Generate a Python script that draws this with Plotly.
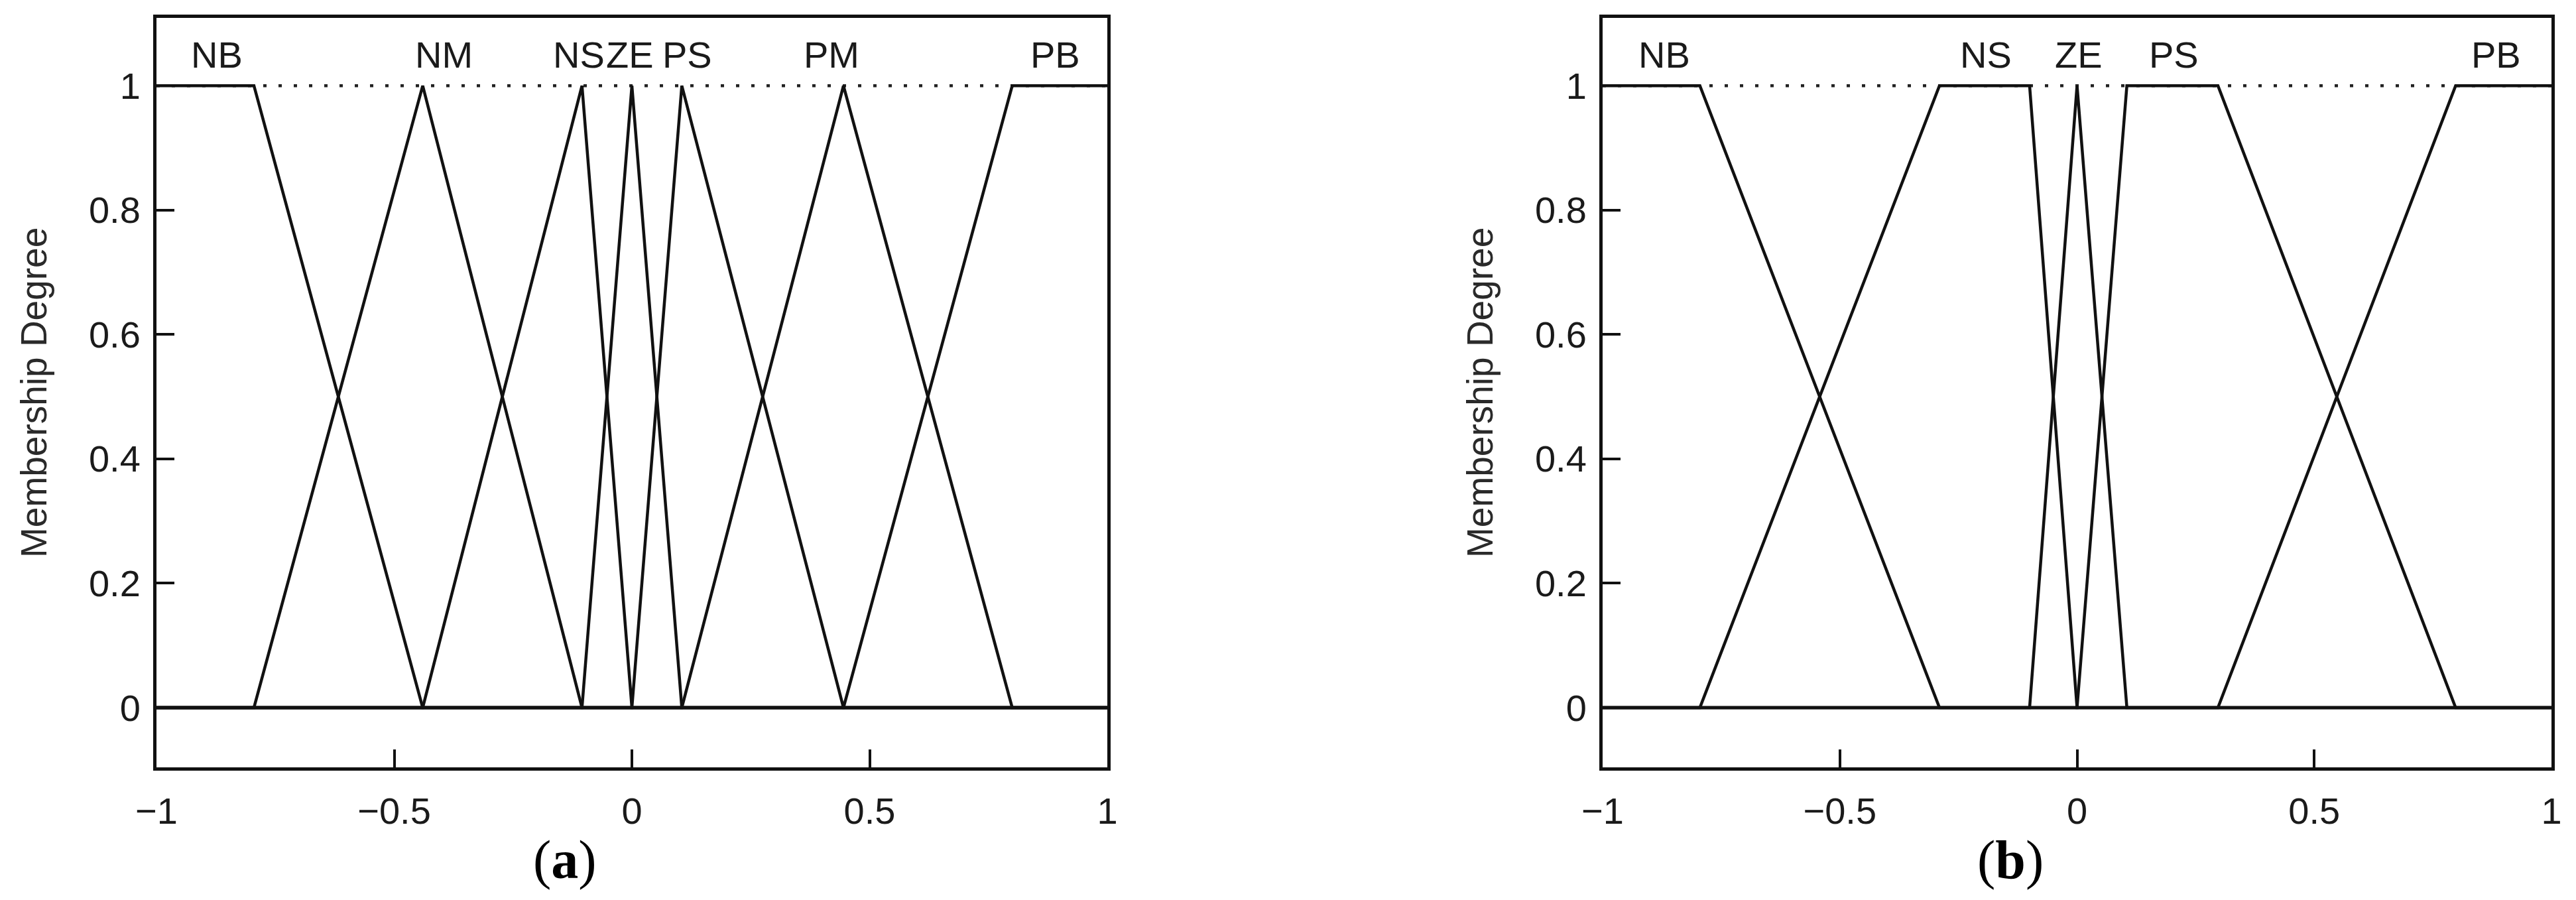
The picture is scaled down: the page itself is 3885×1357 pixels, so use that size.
import plotly.graph_objects as go

# ---------------- data ----------------
# panel (a): membership functions (breakpoints; 3 = triangle, 4 = trapezoid)
A_NAMES = ["NB", "NM", "NS", "ZE", "PS", "PM", "PB"]
A_NB = [-1.0, -1.0, -0.795, -0.44]
A_NM = [-0.795, -0.44, -0.105]
A_NS = [-0.44, -0.105, 0.0]
A_ZE = [-0.105, 0.0, 0.105]
A_PS = [0.0, 0.105, 0.445]
A_PM = [0.105, 0.445, 0.8]
A_PB = [0.445, 0.8, 1.0, 1.0]
A_LABEL_X = [-0.873, -0.395, -0.112, -0.004, 0.117, 0.42, 0.89]

# panel (b)
B_NAMES = ["NB", "NS", "ZE", "PS", "PB"]
B_NB = [-1.0, -1.0, -0.795, -0.29]
B_NS = [-0.795, -0.29, -0.1, 0.0]
B_ZE = [-0.1, 0.0, 0.105]
B_PS = [0.0, 0.105, 0.297, 0.798]
B_PB = [0.297, 0.798, 1.0, 1.0]
B_LABEL_X = [-0.870, -0.192, 0.003, 0.204, 0.883]

LABEL_Y = 1.05
X_TICKS = [-1, -0.5, 0, 0.5, 1]
X_TICK_TEXT = ["\u22121", "\u22120.5", "0", "0.5", "1"]
Y_TICKS = [0, 0.2, 0.4, 0.6, 0.8, 1]
Y_TICK_TEXT = ["0", "0.2", "0.4", "0.6", "0.8", "1"]
Y_TITLE = "Membership Degree"
CAPTIONS = ["a", "b"]

X_RANGE = [-1, 1]
Y_RANGE = [-0.096, 1.109]


def mf_points(p):
    """Return polyline (x, y) over [-1, 1] for triangle/trapezoid breakpoints."""
    if len(p) == 3:
        a, b, d = p
        c = b
    else:
        a, b, c, d = p
    xs, ys = [], []
    if a > -1:
        xs += [-1.0, a]
        ys += [0.0, 0.0]
    else:
        xs += [-1.0]
        ys += [1.0]
    xs += [b, c]
    ys += [1.0, 1.0]
    if d < 1:
        xs += [d, 1.0]
        ys += [0.0, 0.0]
    else:
        xs += [1.0]
        ys += [1.0]
    return xs, ys


FONT = "Liberation Sans, Arial, sans-serif"
LINE_C = "#111111"
TEXT_C = "#1a1a1a"

fig = go.Figure()

panels = [
    ("x", "y", [A_NB, A_NM, A_NS, A_ZE, A_PS, A_PM, A_PB], A_NAMES, A_LABEL_X),
    ("x2", "y2", [B_NB, B_NS, B_ZE, B_PS, B_PB], B_NAMES, B_LABEL_X),
]

for xa, ya, mfs, names, lx in panels:
    # dotted line at membership 1
    fig.add_trace(go.Scatter(
        x=X_RANGE, y=[1, 1], mode="lines", xaxis=xa, yaxis=ya,
        line=dict(color="#222222", width=4.5, dash="5px,18px"),
        showlegend=False, hoverinfo="skip"))
    for p, nm in zip(mfs, names):
        xs, ys = mf_points(p)
        fig.add_trace(go.Scatter(
            x=xs, y=ys, mode="lines", name=nm, xaxis=xa, yaxis=ya,
            line=dict(color=LINE_C, width=4.5), showlegend=False))
    for nm, xv in zip(names, lx):
        fig.add_annotation(
            x=xv, y=LABEL_Y, xref=xa, yref=ya, text=nm, showarrow=False,
            xanchor="center", yanchor="middle",
            font=dict(family=FONT, size=56, color=TEXT_C))

W, H = 3885, 1357
ML, MR, MT, MB = 236, 37, 27, 200
plot_w = W - ML - MR
a_right = 1670
b_left = 2417
dom_a = [0, (a_right - ML) / plot_w]
dom_b = [(b_left - ML) / plot_w, 1]

axis_common = dict(
    showline=True, mirror=True, linecolor=LINE_C, linewidth=5,
    showgrid=False, zeroline=False, ticks="inside", ticklen=27,
    tickwidth=4, tickcolor=LINE_C,
    tickfont=dict(family=FONT, size=56, color=TEXT_C),
)

fig.update_layout(
    width=W, height=H, autosize=False,
    margin=dict(l=ML, r=MR, t=MT, b=MB, pad=0),
    paper_bgcolor="white", plot_bgcolor="white",
    xaxis=dict(domain=dom_a, range=X_RANGE, anchor="y",
               tickvals=X_TICKS, ticktext=X_TICK_TEXT, ticklabelstandoff=13,
               **axis_common),
    yaxis=dict(domain=[0, 1], range=Y_RANGE, anchor="x",
               tickvals=Y_TICKS, ticktext=Y_TICK_TEXT, ticklabelstandoff=8,
               **axis_common),
    xaxis2=dict(domain=dom_b, range=X_RANGE, anchor="y2",
                tickvals=X_TICKS, ticktext=X_TICK_TEXT, ticklabelstandoff=13,
                **axis_common),
    yaxis2=dict(domain=[0, 1], range=Y_RANGE, anchor="x2",
                tickvals=Y_TICKS, ticktext=Y_TICK_TEXT, ticklabelstandoff=8,
                **axis_common),
)

plot_h = H - MT - MB


def px_to_paper_x(px):
    return (px - ML) / plot_w


def py_to_paper_y(py):
    return (H - MB - py) / plot_h


# y-axis titles
for cx in [51, 2232]:
    fig.add_annotation(
        x=px_to_paper_x(cx), y=0.5, xref="paper", yref="paper",
        text=Y_TITLE, textangle=-90, showarrow=False,
        xanchor="center", yanchor="middle",
        font=dict(family=FONT, size=55, color="#2a2a2a"))

# captions (a) and (b)
for cx, c in zip([852, 3032], CAPTIONS):
    fig.add_annotation(
        x=px_to_paper_x(cx), y=py_to_paper_y(1296), xref="paper", yref="paper",
        text="(<b>" + c + "</b>)", showarrow=False,
        xanchor="center", yanchor="middle",
        font=dict(family="Liberation Serif, Times New Roman, serif", size=82,
                  color="#000000"))

fig.write_html(
    "out.html",
    config={"displayModeBar": False},
    post_script="document.body.style.margin='0px';document.body.style.overflow='hidden';",
)
